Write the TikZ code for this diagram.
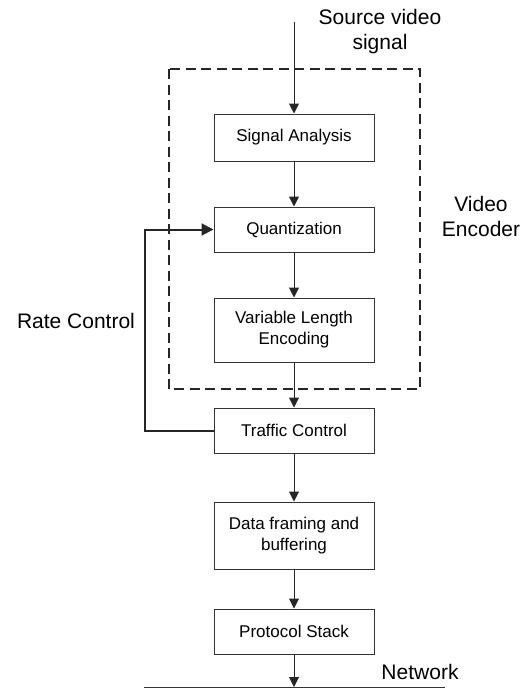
\documentclass[tikz,border=0pt]{standalone}
\usepackage{fontspec}
\setmainfont{Liberation Sans}
\usetikzlibrary{arrows.meta}
\begin{document}
\begin{tikzpicture}[x=1pt,y=1pt,
  blk/.style={draw=black!80,line width=1pt,minimum width=160pt,inner sep=0pt,align=center,
    font=\fontsize{17}{21}\selectfont},
  lbl/.style={align=center,font=\fontsize{21}{25}\selectfont},
  arr/.style={-{Triangle[length=10pt,width=10pt]},line width=1pt,draw=black!85},
  fb/.style={-{Triangle[length=12pt,width=12pt]},line width=2pt,draw=black!85}]
\useasboundingbox (0,0) rectangle (523,-688);
\draw[line width=2pt,dash pattern=on 10pt off 5.5pt,draw=black!85] (168.5,-69) rectangle (420,-389);
\node[blk,minimum height=47pt] (sa) at (294,-137.5) {Signal Analysis};
\node[blk,minimum height=45pt] (q) at (294,-229.5) {Quantization};
\node[blk,minimum height=64pt] (vle) at (294,-330) {Variable Length\\Encoding};
\node[blk,minimum height=45pt] (tc) at (294,-430.5) {Traffic Control};
\node[blk,minimum height=67pt] (df) at (294,-535.5) {Data framing and\\buffering};
\node[blk,minimum height=45pt] (ps) at (294,-631.5) {Protocol Stack};
\node[lbl] (src) at (380,-32) {Source video\\signal};
\node[lbl] (ve) at (481,-216) {Video\\Encoder};
\node[lbl] (rc) at (76,-321) {Rate Control};
\node[lbl] (net) at (420,-672) {Network};
\coordinate (top) at (294,-22);
\coordinate (nl) at (144,-687);
\coordinate (nr) at (445,-687);
\coordinate (fbx) at (145,0);
\draw[line width=1pt,draw=black!80] (nl) -- (nr);
\draw[arr] (top) -- (sa);
\draw[arr] (sa) -- (q);
\draw[arr] (q) -- (vle);
\draw[arr] (vle) -- (tc);
\draw[arr] (tc) -- (df);
\draw[arr] (df) -- (ps);
\draw[arr] (ps.south) -- (ps.south |- nl);
\draw[fb] (tc.west) -- (fbx |- tc.west) -- (fbx |- q.west) -- (q.west);
\end{tikzpicture}
\end{document}
